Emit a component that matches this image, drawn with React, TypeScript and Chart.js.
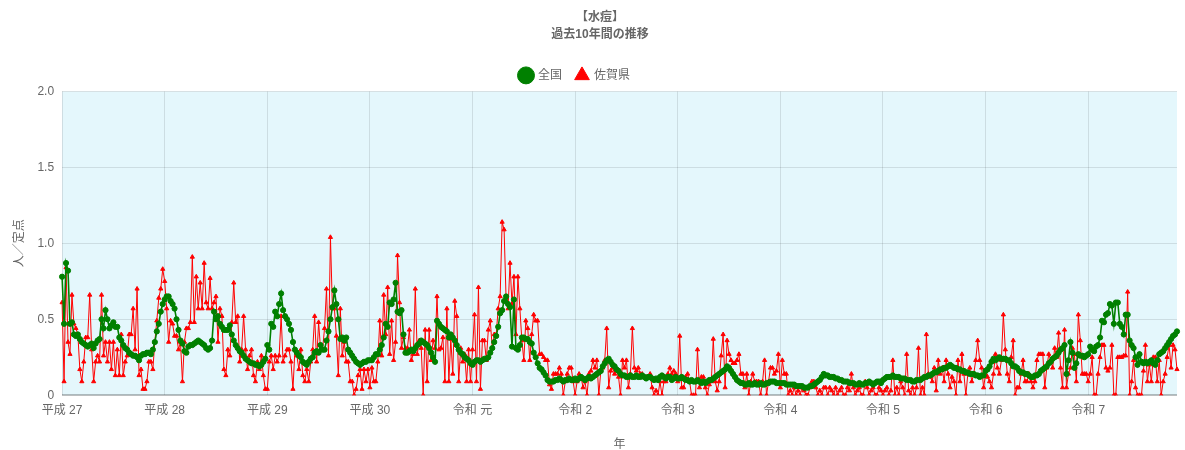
import React, { useEffect, useRef } from 'react';
import { Chart, registerables } from 'chart.js';

Chart.register(...registerables);

// Tick labels (year starts, 52 weeks per year)
const yearLabels = ['平成 27', '平成 28', '平成 29', '平成 30', '令和 元', '令和 2', '令和 3', '令和 4', '令和 5', '令和 6', '令和 7'];
const WEEKS_PER_YEAR = 52;

// 全国 (national) — weekly values per year
const national_H27 = [0.78, 0.47, 0.87, 0.82, 0.47, 0.48, 0.40, 0.39, 0.40, 0.37, 0.35, 0.34, 0.33, 0.32, 0.33, 0.34, 0.31, 0.34, 0.36, 0.37, 0.50, 0.44, 0.56, 0.50, 0.44, 0.46, 0.48, 0.45, 0.45, 0.38, 0.36, 0.33, 0.31, 0.30, 0.28, 0.27, 0.26, 0.26, 0.25, 0.23, 0.26, 0.27, 0.27, 0.28, 0.28, 0.27, 0.30, 0.35, 0.42, 0.47, 0.55, 0.60];
const national_H28 = [0.63, 0.65, 0.65, 0.62, 0.60, 0.57, 0.50, 0.43, 0.36, 0.34, 0.29, 0.28, 0.32, 0.33, 0.33, 0.34, 0.35, 0.36, 0.35, 0.34, 0.33, 0.31, 0.30, 0.31, 0.36, 0.55, 0.50, 0.52, 0.47, 0.45, 0.43, 0.43, 0.43, 0.46, 0.40, 0.36, 0.33, 0.31, 0.29, 0.28, 0.26, 0.24, 0.23, 0.22, 0.21, 0.21, 0.20, 0.20, 0.19, 0.20, 0.22, 0.24];
const national_H29 = [0.33, 0.30, 0.47, 0.45, 0.55, 0.52, 0.60, 0.67, 0.56, 0.52, 0.50, 0.47, 0.43, 0.35, 0.30, 0.28, 0.26, 0.25, 0.22, 0.21, 0.20, 0.22, 0.24, 0.25, 0.28, 0.29, 0.28, 0.33, 0.30, 0.30, 0.36, 0.42, 0.50, 0.58, 0.69, 0.60, 0.50, 0.37, 0.38, 0.36, 0.38, 0.30, 0.28, 0.26, 0.24, 0.22, 0.21, 0.20, 0.21, 0.22, 0.22, 0.23];
const national_H30 = [0.23, 0.23, 0.25, 0.27, 0.27, 0.30, 0.33, 0.38, 0.47, 0.45, 0.61, 0.60, 0.63, 0.74, 0.55, 0.54, 0.56, 0.40, 0.28, 0.28, 0.29, 0.30, 0.29, 0.31, 0.33, 0.34, 0.36, 0.35, 0.34, 0.33, 0.31, 0.28, 0.25, 0.22, 0.49, 0.47, 0.45, 0.44, 0.43, 0.42, 0.38, 0.40, 0.38, 0.36, 0.33, 0.30, 0.28, 0.27, 0.25, 0.24, 0.23, 0.21];
const national_R1 = [0.20, 0.22, 0.23, 0.23, 0.22, 0.23, 0.24, 0.24, 0.25, 0.28, 0.31, 0.35, 0.39, 0.45, 0.54, 0.56, 0.62, 0.65, 0.60, 0.58, 0.32, 0.63, 0.31, 0.30, 0.33, 0.38, 0.38, 0.37, 0.37, 0.35, 0.34, 0.28, 0.25, 0.21, 0.18, 0.17, 0.15, 0.13, 0.10, 0.09, 0.09, 0.09, 0.10, 0.10, 0.11, 0.10, 0.09, 0.10, 0.10, 0.11, 0.10, 0.10];
const national_R2 = [0.11, 0.10, 0.11, 0.12, 0.11, 0.10, 0.11, 0.12, 0.11, 0.12, 0.13, 0.14, 0.15, 0.16, 0.19, 0.21, 0.23, 0.24, 0.22, 0.20, 0.19, 0.17, 0.16, 0.14, 0.13, 0.13, 0.12, 0.12, 0.13, 0.12, 0.12, 0.13, 0.12, 0.12, 0.13, 0.12, 0.11, 0.12, 0.12, 0.11, 0.10, 0.11, 0.10, 0.12, 0.13, 0.12, 0.11, 0.12, 0.12, 0.10, 0.11, 0.12];
const national_R3 = [0.11, 0.11, 0.12, 0.11, 0.10, 0.10, 0.09, 0.10, 0.09, 0.09, 0.10, 0.09, 0.08, 0.09, 0.08, 0.09, 0.10, 0.10, 0.11, 0.12, 0.13, 0.14, 0.15, 0.16, 0.17, 0.19, 0.18, 0.16, 0.14, 0.12, 0.10, 0.09, 0.08, 0.08, 0.07, 0.07, 0.08, 0.07, 0.07, 0.08, 0.07, 0.07, 0.08, 0.07, 0.07, 0.08, 0.08, 0.09, 0.09, 0.09, 0.08, 0.08];
const national_R4 = [0.08, 0.08, 0.08, 0.07, 0.07, 0.07, 0.07, 0.07, 0.06, 0.06, 0.06, 0.06, 0.05, 0.05, 0.05, 0.06, 0.06, 0.07, 0.08, 0.09, 0.10, 0.12, 0.14, 0.13, 0.13, 0.12, 0.12, 0.12, 0.11, 0.11, 0.10, 0.10, 0.09, 0.09, 0.09, 0.08, 0.08, 0.08, 0.07, 0.07, 0.08, 0.07, 0.07, 0.08, 0.08, 0.09, 0.08, 0.07, 0.08, 0.09, 0.09, 0.08];
const national_R5 = [0.10, 0.11, 0.12, 0.12, 0.12, 0.13, 0.12, 0.12, 0.12, 0.11, 0.11, 0.11, 0.10, 0.10, 0.10, 0.09, 0.09, 0.10, 0.10, 0.10, 0.11, 0.12, 0.12, 0.13, 0.13, 0.14, 0.15, 0.15, 0.16, 0.17, 0.17, 0.18, 0.18, 0.19, 0.20, 0.19, 0.18, 0.18, 0.17, 0.17, 0.16, 0.16, 0.15, 0.15, 0.14, 0.14, 0.14, 0.13, 0.13, 0.12, 0.13, 0.13];
const national_R6 = [0.16, 0.17, 0.19, 0.22, 0.24, 0.23, 0.24, 0.25, 0.24, 0.24, 0.24, 0.23, 0.23, 0.21, 0.19, 0.19, 0.18, 0.16, 0.15, 0.15, 0.14, 0.14, 0.13, 0.12, 0.12, 0.13, 0.13, 0.14, 0.16, 0.17, 0.18, 0.19, 0.21, 0.22, 0.24, 0.25, 0.26, 0.28, 0.30, 0.31, 0.33, 0.14, 0.23, 0.35, 0.28, 0.18, 0.21, 0.27, 0.26, 0.26, 0.25, 0.26];
const national_R7 = [0.27, 0.32, 0.30, 0.29, 0.32, 0.33, 0.38, 0.49, 0.48, 0.53, 0.54, 0.60, 0.59, 0.47, 0.61, 0.61, 0.47, 0.45, 0.40, 0.53, 0.53, 0.36, 0.33, 0.31, 0.25, 0.20, 0.27, 0.22, 0.21, 0.22, 0.21, 0.22, 0.23, 0.21, 0.20, 0.23, 0.27, 0.28, 0.29, 0.31, 0.33, 0.35, 0.37, 0.39, 0.40, 0.42];

// 佐賀県 (Saga prefecture) — weekly values per year
const saga_H27 = [0.61, 0.09, 0.84, 0.35, 0.27, 0.66, 0.47, 0.44, 0.40, 0.17, 0.09, 0.22, 0.38, 0.38, 0.66, 0.30, 0.09, 0.22, 0.26, 0.22, 0.66, 0.26, 0.35, 0.22, 0.35, 0.17, 0.35, 0.13, 0.30, 0.13, 0.40, 0.13, 0.22, 0.26, 0.40, 0.40, 0.57, 0.30, 0.70, 0.13, 0.17, 0.04, 0.04, 0.09, 0.22, 0.22, 0.17, 0.35, 0.49, 0.64, 0.70, 0.83];
const saga_H28 = [0.75, 0.57, 0.35, 0.49, 0.47, 0.39, 0.39, 0.30, 0.35, 0.09, 0.35, 0.44, 0.44, 0.48, 0.91, 0.48, 0.78, 0.57, 0.74, 0.57, 0.87, 0.61, 0.57, 0.77, 0.57, 0.61, 0.65, 0.35, 0.57, 0.52, 0.17, 0.13, 0.30, 0.26, 0.48, 0.74, 0.48, 0.52, 0.22, 0.30, 0.52, 0.30, 0.17, 0.26, 0.30, 0.13, 0.09, 0.22, 0.17, 0.26, 0.13, 0.04];
const saga_H29 = [0.04, 0.22, 0.26, 0.17, 0.26, 0.22, 0.26, 0.52, 0.22, 0.26, 0.30, 0.30, 0.22, 0.04, 0.30, 0.26, 0.17, 0.30, 0.13, 0.09, 0.17, 0.09, 0.22, 0.30, 0.52, 0.22, 0.48, 0.30, 0.30, 0.44, 0.70, 0.26, 1.04, 0.57, 0.57, 0.39, 0.13, 0.57, 0.26, 0.35, 0.22, 0.22, 0.09, 0.09, 0.00, 0.04, 0.13, 0.17, 0.04, 0.17, 0.09, 0.17];
const saga_H30 = [0.05, 0.18, 0.09, 0.09, 0.22, 0.49, 0.26, 0.66, 0.40, 0.71, 0.27, 0.49, 0.23, 0.35, 0.92, 0.61, 0.31, 0.38, 0.31, 0.31, 0.43, 0.23, 0.27, 0.70, 0.27, 0.36, 0.31, 0.00, 0.43, 0.09, 0.43, 0.23, 0.36, 0.31, 0.65, 0.30, 0.31, 0.38, 0.09, 0.57, 0.09, 0.37, 0.14, 0.62, 0.52, 0.09, 0.31, 0.22, 0.27, 0.09, 0.30, 0.09];
const saga_R1 = [0.30, 0.53, 0.09, 0.71, 0.04, 0.36, 0.36, 0.23, 0.43, 0.49, 0.31, 0.40, 0.40, 0.57, 0.65, 1.14, 1.09, 0.64, 0.57, 0.87, 0.60, 0.78, 0.40, 0.78, 0.57, 0.36, 0.23, 0.49, 0.44, 0.23, 0.40, 0.53, 0.49, 0.49, 0.27, 0.27, 0.25, 0.23, 0.23, 0.07, 0.04, 0.14, 0.14, 0.14, 0.18, 0.14, 0.00, 0.09, 0.14, 0.18, 0.18, 0.09];
const saga_R2 = [0.00, 0.09, 0.14, 0.12, 0.05, 0.09, 0.00, 0.14, 0.16, 0.23, 0.18, 0.23, 0.00, 0.16, 0.18, 0.23, 0.44, 0.05, 0.16, 0.18, 0.14, 0.16, 0.12, 0.00, 0.23, 0.18, 0.23, 0.05, 0.14, 0.44, 0.18, 0.16, 0.18, 0.14, 0.14, 0.12, 0.12, 0.12, 0.14, 0.05, 0.00, 0.03, 0.00, 0.09, 0.00, 0.09, 0.09, 0.14, 0.18, 0.14, 0.16, 0.14];
const saga_R3 = [0.09, 0.39, 0.05, 0.05, 0.12, 0.14, 0.09, 0.00, 0.00, 0.00, 0.30, 0.05, 0.12, 0.12, 0.05, 0.00, 0.07, 0.09, 0.37, 0.09, 0.03, 0.09, 0.26, 0.40, 0.05, 0.36, 0.27, 0.23, 0.21, 0.21, 0.23, 0.27, 0.14, 0.14, 0.05, 0.14, 0.00, 0.09, 0.14, 0.09, 0.09, 0.09, 0.00, 0.09, 0.23, 0.00, 0.09, 0.18, 0.18, 0.14, 0.16, 0.27];
const saga_R4 = [0.05, 0.23, 0.14, 0.14, 0.00, 0.03, 0.00, 0.05, 0.00, 0.03, 0.00, 0.05, 0.03, 0.00, 0.00, 0.05, 0.09, 0.09, 0.05, 0.00, 0.03, 0.00, 0.05, 0.05, 0.00, 0.05, 0.03, 0.00, 0.05, 0.00, 0.03, 0.05, 0.00, 0.00, 0.05, 0.03, 0.14, 0.05, 0.00, 0.03, 0.05, 0.00, 0.00, 0.09, 0.05, 0.00, 0.03, 0.05, 0.00, 0.00, 0.05, 0.03];
const saga_R5 = [0.00, 0.03, 0.05, 0.00, 0.03, 0.23, 0.00, 0.05, 0.00, 0.09, 0.05, 0.00, 0.27, 0.03, 0.00, 0.05, 0.00, 0.05, 0.31, 0.00, 0.05, 0.00, 0.40, 0.14, 0.12, 0.09, 0.18, 0.03, 0.23, 0.14, 0.18, 0.09, 0.23, 0.14, 0.05, 0.12, 0.09, 0.00, 0.23, 0.09, 0.27, 0.14, 0.00, 0.14, 0.18, 0.09, 0.14, 0.23, 0.36, 0.23, 0.18, 0.05];
const saga_R6 = [0.14, 0.12, 0.09, 0.05, 0.14, 0.27, 0.18, 0.14, 0.23, 0.53, 0.30, 0.14, 0.09, 0.25, 0.36, 0.00, 0.05, 0.05, 0.14, 0.23, 0.09, 0.09, 0.14, 0.09, 0.05, 0.09, 0.23, 0.27, 0.27, 0.27, 0.05, 0.18, 0.27, 0.23, 0.18, 0.31, 0.25, 0.41, 0.18, 0.05, 0.43, 0.05, 0.14, 0.18, 0.31, 0.27, 0.09, 0.53, 0.36, 0.14, 0.14, 0.14];
const saga_R7 = [0.09, 0.14, 0.25, 0.00, 0.00, 0.14, 0.25, 0.33, 0.33, 0.18, 0.16, 0.18, 0.33, 0.00, 0.00, 0.25, 0.25, 0.25, 0.26, 0.26, 0.68, 0.00, 0.09, 0.23, 0.05, 0.00, 0.00, 0.00, 0.16, 0.33, 0.09, 0.20, 0.09, 0.25, 0.25, 0.09, 0.23, 0.00, 0.09, 0.14, 0.25, 0.33, 0.18, 0.33, 0.30, 0.17];

const national = [
  ...national_H27, ...national_H28, ...national_H29, ...national_H30, ...national_R1,
  ...national_R2, ...national_R3, ...national_R4, ...national_R5, ...national_R6, ...national_R7,
];
const saga = [
  ...saga_H27, ...saga_H28, ...saga_H29, ...saga_H30, ...saga_R1,
  ...saga_R2, ...saga_R3, ...saga_R4, ...saga_R5, ...saga_R6, ...saga_R7,
];

const weekLabels = national.map(
  (_, i) => `${yearLabels[Math.floor(i / WEEKS_PER_YEAR)]} 第${(i % WEEKS_PER_YEAR) + 1}週`
);

const FONT = "'Liberation Sans', 'Noto Sans CJK JP', sans-serif";
const TEXT = '#666';

const areaBackground = {
  id: 'areaBackground',
  beforeDraw(chart: any) {
    const { ctx, chartArea } = chart;
    if (!chartArea) return;
    ctx.save();
    ctx.fillStyle = 'rgb(228, 247, 252)';
    ctx.fillRect(chartArea.left, chartArea.top, chartArea.right - chartArea.left, chartArea.bottom - chartArea.top);
    ctx.restore();
  },
};

// Horizontal placement of the title and legend blocks, as in the reference
const blockOffsets = {
  id: 'blockOffsets',
  afterLayout(chart: any) {
    const t = chart.titleBlock;
    if (t) { t.left += 7; t.right += 7; }
    const l = chart.legend;
    if (l) { l.left -= 18; l.right -= 18; }
  },
};

export default function App() {
  const canvasRef = useRef<HTMLCanvasElement | null>(null);

  useEffect(() => {
    document.body.style.margin = '0';
    if (!canvasRef.current) return;
    const chart = new Chart(canvasRef.current, {
      type: 'line',
      data: {
        labels: weekLabels,
        datasets: [
          {
            label: '全国',
            data: national,
            borderColor: '#008000',
            backgroundColor: '#008000',
            pointBackgroundColor: '#008000',
            pointBorderColor: '#008000',
            pointStyle: 'circle',
            pointRadius: 2.6,
            pointBorderWidth: 1,
            borderWidth: 1.6,
            tension: 0,
          },
          {
            label: '佐賀県',
            data: saga,
            borderColor: '#ff0000',
            backgroundColor: '#ff0000',
            pointBackgroundColor: '#ff0000',
            pointBorderColor: '#ff0000',
            pointStyle: 'triangle',
            pointRadius: 2.4,
            pointBorderWidth: 1,
            borderWidth: 1,
            tension: 0,
          },
        ],
      },
      options: {
        animation: false,
        responsive: true,
        maintainAspectRatio: false,
        layout: { padding: { left: 8, right: 7, top: 8, bottom: 0 } },
        plugins: {
          title: {
            display: true,
            text: ['【水痘】', '過去10年間の推移'],
            color: TEXT,
            font: { family: FONT, size: 12, weight: 'bold', lineHeight: 1.35 },
            padding: { top: 2, bottom: 13 },
          },
          legend: {
            display: true,
            labels: {
              usePointStyle: true,
              color: TEXT,
              font: { family: FONT, size: 12 },
              padding: 14,
            },
          },
          tooltip: { enabled: false },
        },
        scales: {
          x: {
            grid: {
              color: (ctx: any) => (ctx.index % WEEKS_PER_YEAR === 0 ? 'rgba(0,0,0,0.1)' : 'rgba(0,0,0,0)'),
              drawTicks: false,
            },
            border: { display: false },
            ticks: {
              autoSkip: false,
              maxRotation: 0,
              minRotation: 0,
              padding: 8,
              color: TEXT,
              font: { family: FONT, size: 12 },
              callback: (_v: any, i: number) =>
                i % WEEKS_PER_YEAR === 0 ? yearLabels[i / WEEKS_PER_YEAR] : '',
            },
            title: {
              display: true,
              text: '年',
              color: TEXT,
              font: { family: FONT, size: 12 },
              padding: { top: 12, bottom: -2 },
            },
          },
          y: {
            min: 0,
            max: 2,
            grid: {
              color: (ctx: any) => (ctx.tick && ctx.tick.value === 0 ? 'rgba(0,0,0,0.25)' : 'rgba(0,0,0,0.1)'),
              lineWidth: (ctx: any) => (ctx.tick && ctx.tick.value === 0 ? 2 : 1),
              drawTicks: false,
            },
            border: { display: false },
            ticks: {
              stepSize: 0.5,
              padding: 8,
              color: TEXT,
              font: { family: FONT, size: 12 },
              callback: (v: any) => (Number(v) === 0 ? '0' : Number(v).toFixed(1)),
            },
            title: {
              display: true,
              text: '人／定点',
              color: TEXT,
              font: { family: FONT, size: 12 },
              padding: { top: 4, bottom: 3 },
            },
          },
        },
      },
      plugins: [areaBackground, blockOffsets],
    });
    return () => chart.destroy();
  }, []);

  return (
    <div style={{ position: 'relative', width: '1185px', height: '450px', overflow: 'hidden' }}>
      <canvas ref={canvasRef} />
    </div>
  );
}
